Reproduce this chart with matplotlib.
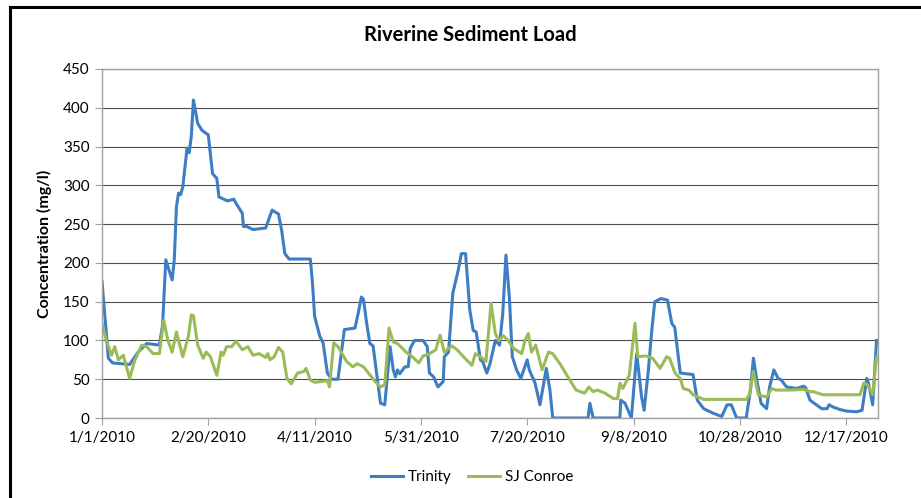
import pandas as pd
import numpy as np
import matplotlib.pyplot as plt
from matplotlib.lines import Line2D

# Step 0: data (day of year offset from 1/1/2010, concentration mg/l)
trinity_day = [0, 3, 5, 13, 17, 21, 27, 28.5, 30, 33, 34, 35, 36, 37, 38, 40, 41, 42, 43, 45,
               47, 50, 52, 54, 55, 59, 62, 63, 66, 66.5, 68, 71, 77, 80, 83, 84.5, 86, 88, 98, 99,
               100, 102.5, 104, 106, 108, 111, 114, 119, 120.5, 122, 123, 124.5, 126, 127.5, 130, 131, 133, 135.5, 137, 138,
               139, 140, 142.5, 144, 145, 147, 151, 153, 154, 156, 158, 160.5, 161, 163, 165, 167.6, 169, 171, 173, 174.6,
               176, 178, 179, 181, 182.5, 185, 187, 188.5, 190, 191.6, 193, 195, 197, 200, 201, 203.7, 206, 209, 210.7, 212,
               228.6, 229.5, 231, 243.6, 244, 246, 249, 251.5, 253.8, 255, 257, 258.6, 260, 263, 266, 268, 269.4, 272, 278, 280,
               283, 287.6, 291.5, 294, 296, 298.5, 303, 305, 306.4, 308, 310, 312.6, 314, 316, 318, 319.5, 322, 326.7, 330, 331,
               333, 335, 338.5, 341, 342, 344, 347, 350, 355, 357.5, 359.7, 360.5, 362.5, 364.3]
trinity_val = [176, 77, 71, 69, 85, 96, 94, 120, 204, 178, 204, 272, 290, 288, 298, 348, 342, 363, 410, 380,
               371, 365, 315, 309, 285, 280, 282, 277, 264, 247, 247, 243, 245, 268, 263, 242, 212, 205, 205, 174,
               131, 105, 97, 58, 50, 50, 114, 116, 135, 156, 153, 122, 96, 93, 40, 19, 17, 92, 62, 53,
               62, 57, 66, 66, 90, 100, 100, 92, 58, 53, 40, 47, 79, 85, 161, 191, 212, 212, 139, 113,
               111, 75, 73, 58, 70, 100, 94, 135, 210, 156, 79, 62, 51, 75, 62, 45, 17, 64, 36, 0,
               0, 19, 0, 0, 23, 19, 0, 83, 27, 10, 62, 113, 150, 154, 152, 122, 117, 58, 56, 23,
               12, 6, 2, 17, 17, 0, 0, 36, 77, 49, 19, 12, 40, 62, 51, 49, 40, 38, 41, 39,
               23, 19, 12, 12, 17, 14, 11, 9, 8, 10, 51, 45, 17, 100]

conroe_day = [0, 2, 4.5, 6, 7.7, 10, 13, 15.5, 18.7, 21, 24, 27, 29, 31, 33, 35, 38, 40.6, 42, 43,
              45, 47.6, 49, 51, 54, 56, 57, 58.6, 61, 63, 66, 68.6, 71, 74, 77, 78, 79, 81, 83, 85,
              87, 89, 92, 95, 96, 98, 100, 103, 106, 107, 109, 111, 115, 118, 120, 123, 128.5, 131, 133, 135,
              137, 139, 143, 146, 149, 151, 153.5, 157, 159, 161, 164.5, 167, 170.7, 174, 175.6, 178, 180.6, 183, 185, 186.6,
              188.8, 191, 193.5, 197.4, 199, 200.5, 202, 204, 207, 210, 212, 215.4, 220, 223, 227, 229, 231, 233, 236.6, 240.5,
              242.5, 243.6, 245, 248, 250.7, 252, 256, 259, 262.5, 265.6, 267, 269.5, 272, 273.4, 276, 278, 283, 303, 304.5, 306.4,
              308.7, 312.6, 315, 317, 324, 330, 333, 334.5, 339, 356.5, 358.3, 360, 362.5, 364.3]
conroe_val = [122, 100, 81, 92, 75, 81, 51, 75, 94, 92, 83, 83, 126, 100, 85, 111, 79, 105, 133, 132,
              94, 77, 85, 79, 55, 85, 81, 92, 92, 99, 88, 92, 81, 83, 78, 83, 75, 79, 91, 85,
              51, 44, 58, 60, 64, 49, 46, 47, 48, 40, 97, 92, 73, 66, 70, 66, 47, 40, 43, 116,
              98, 96, 85, 79, 71, 80, 82, 88, 107, 85, 93, 88, 77, 68, 83, 79, 73, 148, 109, 100,
              106, 100, 90, 83, 100, 109, 85, 94, 62, 85, 83, 70, 49, 36, 32, 40, 34, 36, 32, 25,
              25, 45, 38, 55, 122, 79, 80, 77, 64, 79, 77, 58, 51, 38, 36, 30, 24, 24, 30, 60,
              30, 27, 38, 36, 36, 37, 34, 34, 30, 30, 45, 43, 30, 79]

tick_labels = ['1/1/2010', '2/20/2010', '4/11/2010', '5/31/2010', '7/20/2010',
               '9/8/2010', '10/28/2010', '12/17/2010']

start = pd.Timestamp('2010-01-01')
trinity_dates = start + pd.to_timedelta(trinity_day, unit='D')
conroe_dates = start + pd.to_timedelta(conroe_day, unit='D')
tick_dates = pd.to_datetime(tick_labels, format='%m/%d/%Y')

# Step 1: figure
plt.rcParams['font.family'] = ['Lato', 'DejaVu Sans']
fig = plt.figure(figsize=(9.21, 4.98), dpi=100)
ax = fig.add_axes([102 / 921, 1 - 418 / 498, 776 / 921, 349 / 498])

ax.plot(trinity_dates, trinity_val, color='#3C7DC4', lw=2.2, label='Trinity',
        solid_joinstyle='round')
ax.plot(conroe_dates, conroe_val, color='#9BBB59', lw=2.2, label='SJ Conroe',
        solid_joinstyle='round')

ax.set_xlim(start, pd.Timestamp('2011-01-01'))
ax.set_ylim(0, 450)
ax.set_yticks(np.arange(0, 451, 50))
ax.set_xticks(tick_dates)
ax.set_xticklabels(tick_labels)
ax.tick_params(labelsize=11, length=5, color='#A0A0A0', pad=4)
ax.grid(axis='y', color='#4D4D4D', lw=0.8)
ax.set_axisbelow(True)
for s in ax.spines.values():
    s.set_color('#A0A0A0')
    s.set_linewidth(1.0)

ax.set_ylabel('Concentration (mg/l)', fontsize=11.5, fontweight='bold', labelpad=8)
fig.text(470 / 921, 1 - 35 / 498, 'Riverine Sediment Load', ha='center', va='center',
         fontsize=14.5, fontweight='bold')

# Step 2: legend below the plot
fig.legend(loc='center', bbox_to_anchor=(472 / 921, 1 - 477 / 498), ncol=2, frameon=False,
           fontsize=11, handlelength=2.1, handletextpad=0.3, columnspacing=1.1)

# outer chart frame (top and left only visible)
fig.add_artist(Line2D([10 / 921, 1], [1 - 7 / 498] * 2, color='black', lw=2.2))
fig.add_artist(Line2D([10 / 921] * 2, [0, 1 - 7 / 498], color='black', lw=2.2))

fig.savefig('out.png', dpi=100)
